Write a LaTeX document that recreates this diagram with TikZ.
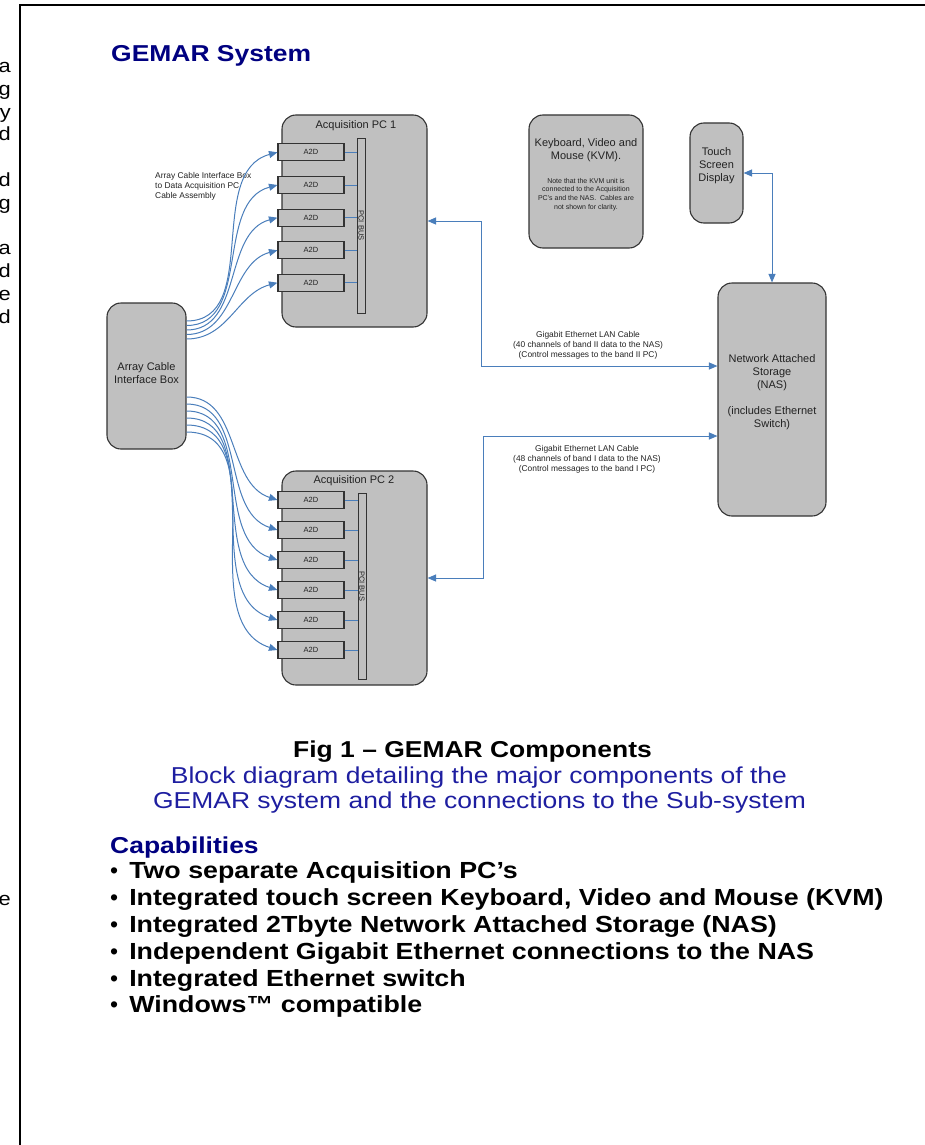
\documentclass[tikz,border=0pt]{standalone}
\usepackage{fontspec}
\setmainfont{Liberation Sans}
\newfontfamily\widesans[FakeStretch=1.15]{Liberation Sans}
\usetikzlibrary{arrows.meta}

\definecolor{unitgray}{HTML}{C0C0C0}
\definecolor{edge}{HTML}{333333}
\definecolor{wireblue}{HTML}{4A7EBB}
\definecolor{inkgray}{HTML}{222222}
\definecolor{headnavy}{HTML}{000080}
\definecolor{capblue}{HTML}{1E1EA0}

\tikzset{
  unit/.style={draw=edge, fill=unitgray, line width=1.1pt, rounded corners=14pt, inner sep=0pt},
  card/.style={draw=edge, fill=unitgray, line width=1.1pt, inner sep=0pt,
    minimum width=66pt, minimum height=17pt, text=inkgray, font=\fontsize{7.5}{9}\selectfont},
  busbar/.style={draw=edge, fill=unitgray, line width=1pt, inner sep=0pt, minimum width=8pt},
  bustext/.style={rotate=-90, inner sep=0pt, text=inkgray, font=\fontsize{7.5}{9}\selectfont},
  wire/.style={draw=wireblue, line width=1pt},
  tip/.style={-{Triangle[length=8.5pt,width=7pt]}},
  dtip/.style={{Triangle[length=8.5pt,width=7pt]}-{Triangle[length=8.5pt,width=7pt]}},
  lbl/.style={inner sep=0pt, align=center, text=inkgray, font=\fontsize{11}{13}\selectfont},
  small/.style={inner sep=0pt, align=center, text=inkgray, font=\fontsize{8.4}{10}\selectfont},
  tiny/.style={inner sep=0pt, align=center, text=inkgray, font=\fontsize{7}{8.8}\selectfont},
  margin/.style={inner sep=0pt, anchor=base east, font=\widesans\fontsize{19}{23}\selectfont},
  doc/.style={inner sep=0pt, font=\widesans\fontsize{23}{27}\selectfont},
  bullet/.style={doc, anchor=base west, font=\widesans\fontsize{23.3}{27}\selectfont\bfseries},
}
\newcommand\dotmark{{\normalfont\fontsize{23}{27}\selectfont\textbullet}\hspace{11pt}}

\begin{document}
\begin{tikzpicture}[x=1pt, y=-1pt]
\useasboundingbox (0,0) rectangle (925,1145);

% page frame
\draw[line width=2pt] (20,1146) -- (20,5) -- (926,5);

% letters of the neighbouring column
\foreach \ch/\b [count=\k] in {a/72.5, g/95.3, y/118.1, d/140.9, d/186.5, g/209.3,
    a/254.9, d/277.7, e/300.5, d/323.3, e/905}
  \node[margin] (m\k) at (11,\b) {\ch};

% heading
\node[doc, anchor=base west, text=headnavy, font=\widesans\fontsize{23}{27}\selectfont\bfseries]
  (head) at (111,62) {GEMAR System};

% ---------------- acquisition PC 1 ----------------
\node[unit, minimum width=145pt, minimum height=212pt] (pc1) at (354.5,221) {};
\node[lbl] (pc1t) at (356,126) {Acquisition PC 1};
\node[busbar, minimum height=175pt] (bus1) at (361.3,225.5) {};
\node[bustext] (bus1t) at (bus1) {PCI BUS};
\foreach \i/\y in {1/152.3, 2/185, 3/217.7, 4/250.3, 5/282.7}
  \node[card] (a\i) at (311,\y) {A2D};
\foreach \i in {1,...,5}
  \draw[wire] (a\i.east) -- (a\i.east -| bus1.west);

% ---------------- acquisition PC 2 ----------------
\node[unit, minimum width=145pt, minimum height=214pt] (pc2) at (354.5,578) {};
\node[lbl] (pc2t) at (354,481) {Acquisition PC 2};
\node[busbar, minimum height=186pt] (bus2) at (362,586) {};
\node[bustext] (bus2t) at (bus2) {PCI BUS};
\foreach \i/\y in {1/500, 2/530, 3/560, 4/590, 5/620, 6/650}
  \node[card] (b\i) at (311,\y) {A2D};
\foreach \i in {1,...,6}
  \draw[wire] (b\i.east) -- (b\i.east -| bus2.west);

% ---------------- array cable interface box ----------------
\node[unit, minimum width=79pt, minimum height=146pt] (acib) at (146.5,376) {};
\node[lbl] (acibt) at (146.5,373.5) {Array Cable\\Interface Box};

\node[small, align=left, anchor=west] (cablet) at (155,186)
  {Array Cable Interface Box\\to Data Acquisition PC\\Cable Assembly};

% cable assemblies to the A2D cards
\foreach \i/\y in {1/321, 2/325.5, 3/330, 4/334.5, 5/339}
  \coordinate (u\i) at (acib.east |- 0,\y);
\foreach \i in {1,...,5}
  \draw[wire, tip] (u\i) to[out=0, in=195] (a\i.west);

\foreach \i/\y in {1/397, 2/404, 3/411, 4/418, 5/425, 6/432}
  \coordinate (v\i) at (acib.east |- 0,\y);
\foreach \i in {1,...,6}
  \draw[wire, tip] (v\i) to[out=0, in=162] (b\i.west);

% ---------------- KVM ----------------
\node[unit, minimum width=114pt, minimum height=133pt] (kvm) at (586,181.5) {};
\node[lbl] (kvmt) at (586,150) {Keyboard, Video and\\Mouse (KVM).};
\node[tiny] (kvmn) at (586,194.5) {Note that the KVM unit is\\connected to the Acquisition\\PC's and the NAS.\ \ Cables are\\not shown for clarity.};

% ---------------- touch screen ----------------
\node[unit, minimum width=53pt, minimum height=100pt] (touch) at (716.5,173) {};
\node[lbl] (toucht) at (716.5,166) {Touch\\Screen\\Display};

% ---------------- NAS ----------------
\node[unit, minimum width=108pt, minimum height=233pt] (nas) at (772,399.5) {};
\node[lbl] (nast) at (772,392) {Network Attached\\Storage\\(NAS)\\[13pt](includes Ethernet\\Switch)};

\draw[wire, dtip] (nas.north) |- (touch.east);

% Ethernet links
\coordinate (j1) at (481,366);
\coordinate (k1) at (481,221);
\draw[wire, dtip] (j1 -| nas.west) -- (j1) -- (k1) -- (k1 -| pc1.east);
\node[small] (eth1t) at (588,345) {Gigabit Ethernet LAN Cable\\(40 channels of band II data to the NAS)\\(Control messages to the band II PC)};

\coordinate (j2) at (483,578);
\coordinate (k2) at (483,436);
\draw[wire, dtip] (j2 -| pc2.east) -- (j2) -- (k2) -- (k2 -| nas.west);
\node[small] (eth2t) at (587,459) {Gigabit Ethernet LAN Cable\\(48 channels of band I data to the NAS)\\(Control messages to the band I PC)};

% ---------------- caption ----------------
\node[doc, anchor=base, font=\widesans\fontsize{23}{27}\selectfont\bfseries] (fig) at (472.5,757) {Fig 1 – GEMAR Components};
\node[doc, anchor=base, text=capblue] (cap1) at (479,783) {Block diagram detailing the major components of the};
\node[doc, anchor=base, text=capblue] (cap2) at (479.5,808) {GEMAR system and the connections to the Sub-system};

% ---------------- capabilities ----------------
\node[doc, anchor=base west, text=headnavy, font=\widesans\fontsize{23}{27}\selectfont\bfseries] (capt) at (110,853) {Capabilities};
\foreach \t/\b [count=\k] in {
    {Two separate Acquisition PC’s}/878,
    {Integrated touch screen Keyboard, Video and Mouse (KVM)}/905,
    {Integrated 2Tbyte Network Attached Storage (NAS)}/932,
    {Independent Gigabit Ethernet connections to the NAS}/959,
    {Integrated Ethernet switch}/986,
    {Windows™ compatible}/1012}
  \node[bullet] (c\k) at (110,\b) {\dotmark\t};
\end{tikzpicture}
\end{document}
